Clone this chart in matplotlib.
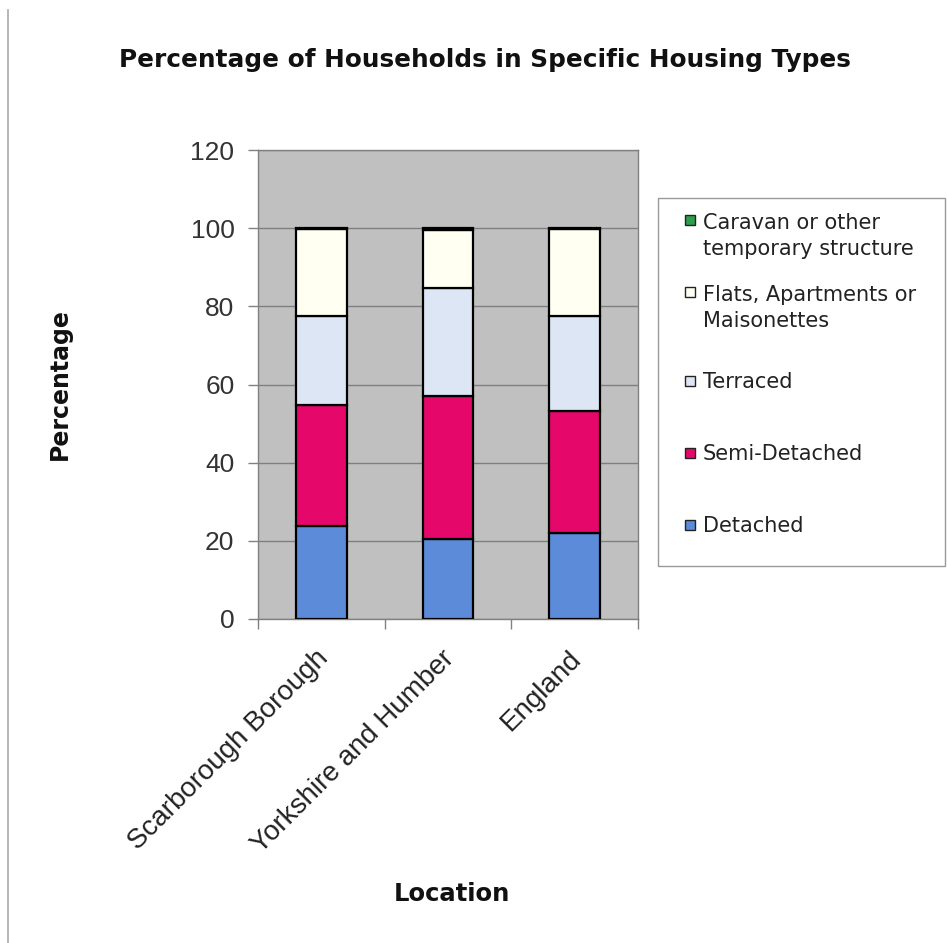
import numpy as np
import matplotlib.pyplot as plt
import matplotlib.patches as mpatches
from matplotlib.legend_handler import HandlerPatch
from matplotlib.lines import Line2D

# values (percent of households)
locations = ["Scarborough Borough", "Yorkshire and Humber", "England"]
detached = [23.8, 20.4, 22.1]
semi_detached = [31.0, 36.7, 31.0]
terraced = [22.8, 27.7, 24.5]
flats = [22.1, 14.7, 22.2]
caravan = [0.3, 0.5, 0.2]

series = [
    ("Detached", detached, "#5B8BD9"),
    ("Semi-Detached", semi_detached, "#E6076B"),
    ("Terraced", terraced, "#DCE6F4"),
    ("Flats, Apartments or\nMaisonettes", flats, "#FFFFF2"),
    ("Caravan or other\ntemporary structure", caravan, "#2E9E4A"),
]
yticks = [0, 20, 40, 60, 80, 100, 120]

W, H = 947, 943
fig = plt.figure(figsize=(W / 100, H / 100), dpi=100)
ax = fig.add_axes([258 / W, 1 - 619 / H, 380 / W, 469 / H])
ax.set_facecolor("#C0C0C0")

x = np.arange(len(locations))
bottom = np.zeros(len(locations))
for name, vals, col in series:
    ax.bar(x, vals, width=0.4, bottom=bottom, color=col, edgecolor="black",
           linewidth=1.6, zorder=3)
    bottom += np.array(vals)

ax.set_xlim(-0.5, len(locations) - 0.5)
ax.set_ylim(0, 120)
ax.set_yticks(yticks)
ax.yaxis.grid(True, color="#7F7F7F", linewidth=1.0, zorder=0)
ax.set_axisbelow(True)
for s in ax.spines.values():
    s.set_color("#808080")
    s.set_linewidth(1.0)

ax.tick_params(axis="y", length=7, width=1, color="#808080", pad=10,
               labelsize=19, labelcolor="#333333")
ax.set_xticks(x - 0.05)
ax.set_xticklabels(locations, rotation=45, ha="right", rotation_mode="anchor",
                   fontsize=20, color="#222222", family="Liberation Sans")
for lab in ax.get_yticklabels():
    lab.set_family("Liberation Sans")
ax.tick_params(axis="x", which="major", length=0, pad=19)
ax.set_xticks(np.arange(len(locations) + 1) - 0.5, minor=True)
ax.tick_params(axis="x", which="minor", length=7, width=1, color="#808080")

ax.set_ylabel("Percentage", fontsize=17, fontweight="bold", color="#111111")
ax.yaxis.set_label_coords(-0.49, 0.5)
ax.set_xlabel("Location", fontsize=17.5, fontweight="bold", color="#111111")
ax.xaxis.set_label_coords(0.51, -0.56)

fig.text(0.512, 1 - 60 / H, "Percentage of Households in Specific Housing Types",
         ha="center", va="center", fontsize=17.8, fontweight="bold", color="#111111")

# thin border line on the left side of the page
fig.add_artist(Line2D([8 / W, 8 / W], [0, 1 - 10 / H], transform=fig.transFigure,
                      color="#AAAAAA", linewidth=1.2))


# legend: small squares sitting next to the first line of each label,
# tall handle boxes so every entry gets about the same slot height
def square_handler(shift):
    def make(legend, orig_handle, xdescent, ydescent, width, height, fontsize):
        side = 7.2
        y0 = 0.35 * fontsize - side / 2 + shift
        return mpatches.Rectangle((width - side, y0), side, side)
    return HandlerPatch(patch_func=make)


handles = []
labels = []
hmap = {}
for name, vals, col in reversed(series):
    p = mpatches.Patch(facecolor=col, edgecolor="#222222", linewidth=1.0)
    handles.append(p)
    labels.append(name)
    hmap[p] = square_handler(11.8 if "\n" in name else 0.0)

leg = fig.legend(handles, labels, handler_map=hmap, loc="upper left",
                 bbox_to_anchor=(658 / W, 1 - 566 / H, 287 / W, 368 / H),
                 bbox_transform=fig.transFigure, mode="expand",
                 borderaxespad=0, fontsize=15, handlelength=1.08, handleheight=3.4,
                 handletextpad=0.38, labelspacing=1.0, borderpad=0.7,
                 fancybox=False, framealpha=1, edgecolor="#999999")
leg.get_frame().set_linewidth(1.0)
for t in leg.get_texts():
    t.set_color("#222222")
    t.set_linespacing(1.4)

fig.savefig("out.png", dpi=100, facecolor="white")
